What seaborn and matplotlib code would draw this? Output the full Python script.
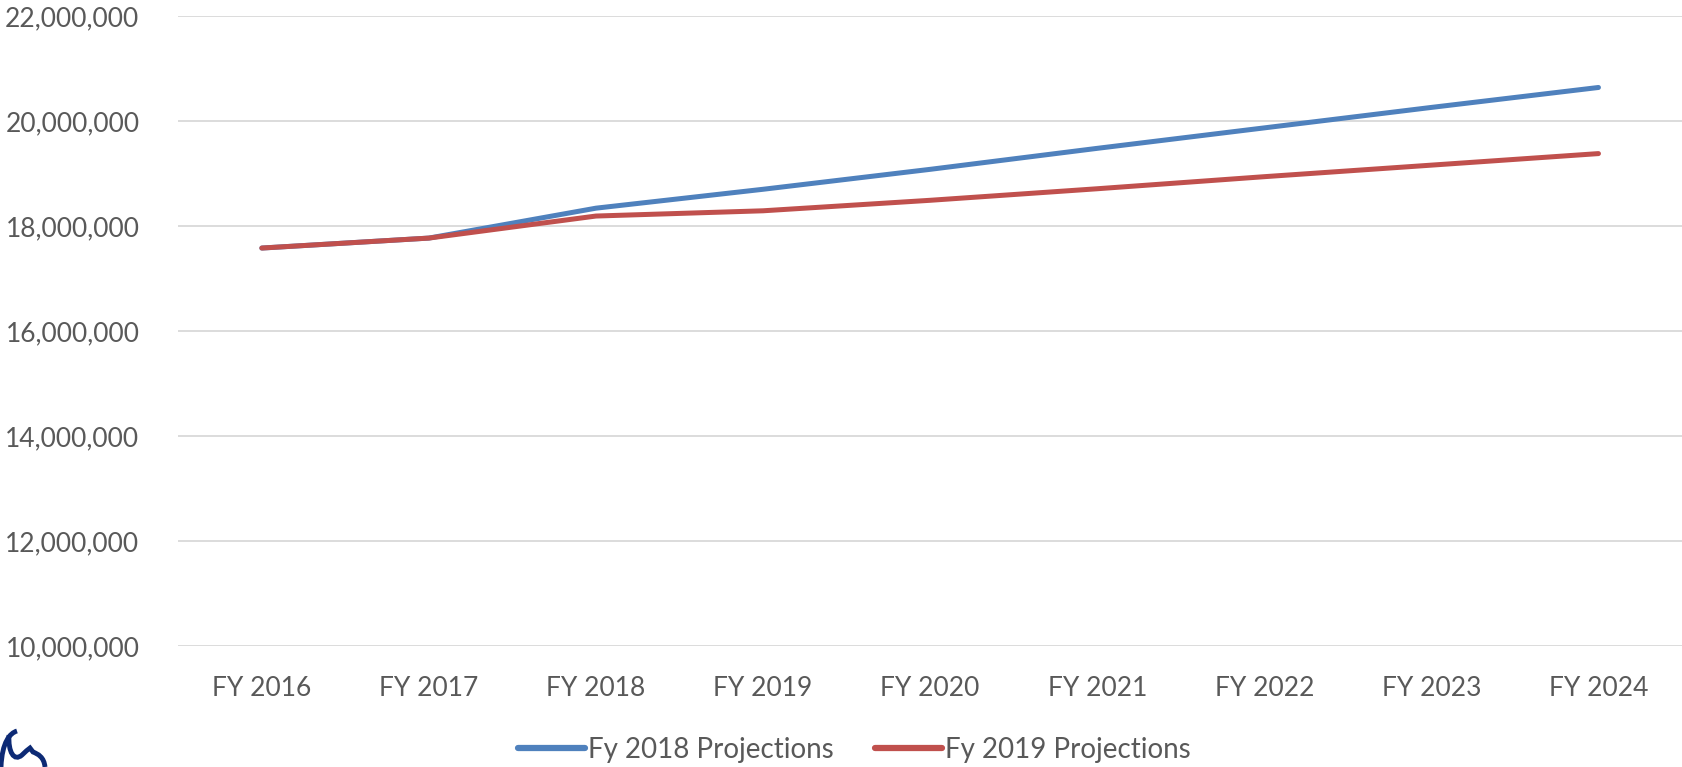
import numpy as np
import pandas as pd
import matplotlib
matplotlib.use("Agg")
import matplotlib.pyplot as plt
import seaborn as sns
from matplotlib.ticker import FuncFormatter
from matplotlib.path import Path
from matplotlib.patches import PathPatch

# data
years = ["FY 2016", "FY 2017", "FY 2018", "FY 2019", "FY 2020",
         "FY 2021", "FY 2022", "FY 2023", "FY 2024"]
fy2018_proj = [17580000, 17770000, 18340000, 18700000, 19080000,
               19480000, 19870000, 20260000, 20640000]
fy2019_proj = [17580000, 17770000, 18190000, 18290000, 18490000,
               18710000, 18940000, 19160000, 19380000]
series_names = ["Fy 2018 Projections", "Fy 2019 Projections"]

df = pd.DataFrame({
    "year": years * 2,
    "value": fy2018_proj + fy2019_proj,
    "series": [series_names[0]] * len(years) + [series_names[1]] * len(years),
})
df["x"] = df["year"].map({y: i for i, y in enumerate(years)})

sns.set_style("white")
plt.rcParams['font.family'] = ['Lato', 'DejaVu Sans']
txt_color = "#595959"

fig = plt.figure(figsize=(16.82, 7.67), dpi=100)
ax = fig.add_axes([0.106, 0.158, 0.894, 0.821])

sns.lineplot(data=df, x="x", y="value", hue="series",
             palette=["#4F81BD", "#C0504D"], linewidth=3.6,
             solid_capstyle="round", ax=ax, legend=False)

ax.set_xlim(-0.5, 8.5)
ax.set_ylim(10000000, 22000000)
ax.set_yticks(np.arange(10000000, 22000001, 2000000))
ax.yaxis.set_major_formatter(FuncFormatter(lambda v, p: f"{int(v):,}"))
ax.set_xticks(range(len(years)))
ax.set_xticklabels(years)
ax.grid(axis="y", color="#d9d9d9", linewidth=1.3)
ax.set_axisbelow(True)
for s in ax.spines.values():
    s.set_visible(False)
ax.tick_params(axis="both", length=0, labelsize=19, colors=txt_color)
ax.tick_params(axis="y", pad=28)
ax.tick_params(axis="x", pad=22)
ax.set_xlabel("")
ax.set_ylabel("")

handles = [plt.Line2D([], [], color=c, linewidth=4.5, solid_capstyle="round")
           for c in ["#4F81BD", "#C0504D"]]
leg = fig.legend(handles, series_names, loc="center", bbox_to_anchor=(0.508, 0.022),
                 ncol=2, frameon=False, fontsize=20, handlelength=2.4,
                 handletextpad=0.12, columnspacing=1.5)
for t in leg.get_texts():
    t.set_color(txt_color)

# partial logo peeking in at bottom-left corner (pixel coords, origin bottom-left)
H = 767
def px(x, y):
    return (x / 1682, (H - y) / H)
logo1 = Path([px(1, 767), px(2, 742), px(10, 733), px(17, 731)],
             [Path.MOVETO, Path.CURVE4, Path.CURVE4, Path.CURVE4])
logo2 = Path([px(9, 735), px(8, 752), px(14, 762), px(22, 755),
              px(27, 750), px(30, 748), px(33, 752),
              px(38, 754), px(44, 757), px(45, 767)],
             [Path.MOVETO, Path.CURVE4, Path.CURVE4, Path.CURVE4,
              Path.CURVE3, Path.CURVE3, Path.LINETO,
              Path.CURVE4, Path.CURVE4, Path.CURVE4])
for p in (logo1, logo2):
    fig.add_artist(PathPatch(p, transform=fig.transFigure, fill=False,
                             edgecolor="#0d2a75", linewidth=3.5))

fig.savefig("out.png", dpi=100)
